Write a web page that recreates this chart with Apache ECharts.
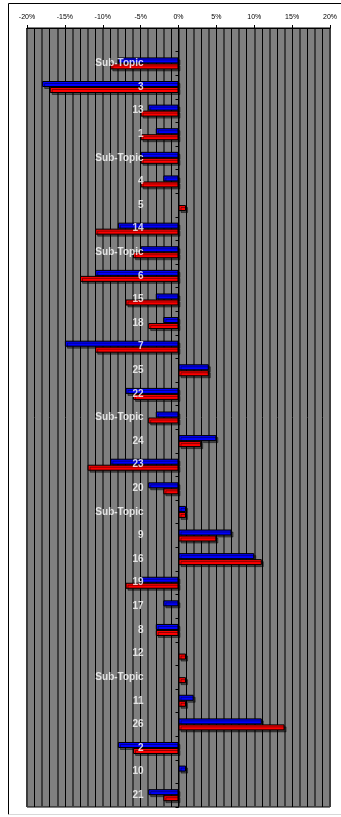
<!DOCTYPE html>
<html>
<head>
<meta charset="utf-8">
<script src="https://cdn.jsdelivr.net/npm/echarts@6/dist/echarts.min.js"></script>
<style>
  html, body { margin: 0; padding: 0; background: #ffffff; }
  #chart { width: 341px; height: 817px; }
</style>
</head>
<body>
<div id="chart"></div>
<script>
// Topic rows, top to bottom (first row is a blank spacer)
const categories = ['', 'Sub-Topic', '3', '13', '1', 'Sub-Topic', '4', '5', '14', 'Sub-Topic', '6', '15', '18', '7', '25', '22', 'Sub-Topic', '24', '23', '20', 'Sub-Topic', '9', '16', '19', '17', '8', '12', 'Sub-Topic', '11', '26', '2', '10', '21'];

// Percentage change per row
const blueValues = [null, -8, -18, -4, -3, -5, -2, null, -8, -5, -11, -3, -2, -15, 4, -7, -3, 5, -9, -4, 1, 7, 10, -5, -2, -3, null, null, 2, 11, -8, 1, -4];
const redValues  = [null, -9, -17, -5, -5, -5, -5, 1, -11, -6, -13, -7, -4, -11, 4, -6, -4, 3, -12, -2, 1, 5, 11, -7, null, -3, 1, 1, 1, 14, -6, null, -2];

// Value axis range and label step
const xMin = -20;
const xMax = 20;
const xLabelStep = 5;

const chart = echarts.init(document.getElementById('chart'), null, { renderer: 'canvas' });

const barStyle = (color) => ({
  color: color,
  borderColor: '#000000',
  borderWidth: 1,
  shadowColor: 'rgba(0,0,0,0.45)',
  shadowOffsetX: 2,
  shadowOffsetY: 2,
  shadowBlur: 0
});

// Row names sit just left of the zero line, drawn on top of the bars
const rowLabelData = categories.map((name, i) => ({ value: [0, i], name: name }));

chart.setOption({
  animation: false,
  backgroundColor: '#ffffff',
  graphic: [
    { type: 'line', shape: { x1: 8.5, y1: 3.5, x2: 341, y2: 3.5 }, style: { stroke: '#000', lineWidth: 1 } },
    { type: 'line', shape: { x1: 8.5, y1: 3.5, x2: 8.5, y2: 814.5 }, style: { stroke: '#000', lineWidth: 1 } },
    { type: 'line', shape: { x1: 8.5, y1: 814.5, x2: 341, y2: 814.5 }, style: { stroke: '#d8d8d8', lineWidth: 1 } }
  ],
  grid: {
    left: 27,
    top: 28,
    width: 303,
    height: 779,
    containLabel: false,
    outerBoundsMode: 'none',
    show: true,
    backgroundColor: '#808080',
    borderColor: '#000000',
    borderWidth: 1
  },
  xAxis: [
    {
      type: 'value',
      position: 'top',
      min: xMin,
      max: xMax,
      interval: xLabelStep,
      axisLine: { show: true, onZero: false, lineStyle: { color: '#000', width: 1 } },
      axisTick: { show: true, inside: false, length: 3, lineStyle: { color: '#000' } },
      axisLabel: {
        formatter: '{value}%',
        fontFamily: 'Liberation Sans, Arial, sans-serif',
        fontSize: 7,
        color: '#000',
        margin: 7
      },
      splitLine: { show: false }
    },
    {
      // gridline-only axis: darker lines every 2%, black lines in between
      type: 'value',
      position: 'bottom',
      min: xMin,
      max: xMax,
      interval: 2,
      axisLine: { show: false },
      axisTick: { show: false },
      axisLabel: { show: false },
      minorTick: { show: false, splitNumber: 2 },
      splitLine: { show: true, lineStyle: { color: '#3c3c3c', width: 2 } },
      minorSplitLine: { show: true, lineStyle: { color: '#000000', width: 1 } }
    }
  ],
  yAxis: {
    type: 'category',
    inverse: true,
    data: categories,
    z: 5,
    axisLine: { show: true, onZero: true, lineStyle: { color: '#000', width: 1 } },
    axisTick: { show: true, inside: false, length: 3, lineStyle: { color: '#000' } },
    axisLabel: { show: false },
    splitLine: { show: false }
  },
  series: [
    {
      name: 'Blue',
      type: 'bar',
      xAxisIndex: 0,
      data: blueValues,
      barWidth: 6,
      barGap: '0%',
      itemStyle: barStyle('#0000ff')
    },
    {
      name: 'Red',
      type: 'bar',
      xAxisIndex: 0,
      data: redValues,
      barWidth: 6,
      barGap: '0%',
      itemStyle: barStyle('#ff0000')
    },
    {
      name: 'Rows',
      type: 'scatter',
      xAxisIndex: 0,
      z: 6,
      symbolSize: 0,
      silent: true,
      data: rowLabelData,
      label: {
        show: true,
        position: 'left',
        distance: 35,
        formatter: (p) => p.name,
        color: '#ffffff',
        fontWeight: 'bold',
        fontFamily: 'Liberation Sans, Arial, sans-serif',
        fontSize: 10
      }
    }
  ]
});
</script>
</body>
</html>
